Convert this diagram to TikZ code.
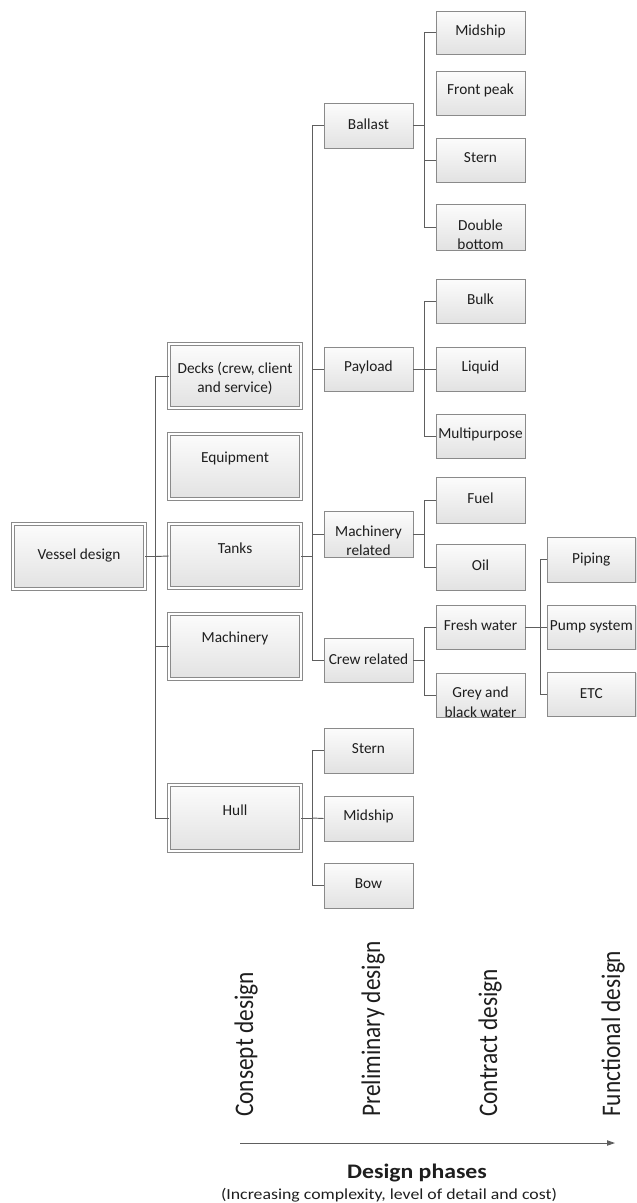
\documentclass[tikz,border=0pt]{standalone}
\usepackage{fontspec}
\setmainfont{Carlito}
\usetikzlibrary{fit,shadows,arrows.meta}

\definecolor{boxline}{HTML}{8A8A8A}
\definecolor{connline}{HTML}{5E5E5E}
\definecolor{shadetop}{HTML}{FCFCFC}
\definecolor{shadebot}{HTML}{E2E2E2}
\definecolor{inkcol}{HTML}{1E1E1E}

\tikzset{
  plainbox/.style={draw=boxline, line width=0.6pt, top color=shadetop,
    bottom color=shadebot, inner sep=0pt,
    drop shadow={shadow xshift=0.9pt, shadow yshift=-0.9pt, opacity=0.22}},
  dblbox/.style={plainbox, double=white, double distance=1.5pt, line width=0.5pt},
  lbl/.style={font=\fontsize{11.5}{14.5}\selectfont, text=inkcol, align=center, inner sep=0pt},
  conn/.style={draw=connline, line width=0.7pt},
  phase/.style={font=\fontsize{17.5}{20}\selectfont, text=inkcol, rotate=90,
    yscale=1.15, anchor=base west, inner sep=0pt},
}

% box: name, style, x1, y1, x2, y2 (pixel grid, y downwards)
\newcommand{\boxat}[6]{\node[#2, fit={(#3,#4) (#5,#6)}] (#1) {};}
% text of a box: box name, vertical shift, text
\newcommand{\boxtext}[3]{\node[lbl] (#1-t) at ([yshift=#2]#1.center) {#3};}

\begin{document}
\begin{tikzpicture}[x=0.75pt, y=-0.75pt]
\useasboundingbox (0,0) rectangle (636,1203);

% ---- level 1 ----
\boxat{vessel}{dblbox}{13}{524}{145}{589}
\boxtext{vessel}{1pt}{Vessel design}

% ---- level 2 ----
\boxat{decks}{dblbox}{169}{344}{301}{408}
\boxat{equip}{dblbox}{169}{434}{301}{499}
\boxat{tanks}{dblbox}{169}{524}{301}{588}
\boxat{mach}{dblbox}{169}{614}{301}{679}
\boxat{hull}{dblbox}{169}{785}{301}{851}
\boxtext{decks}{-2pt}{Decks (crew, client\\and service)}
\boxtext{equip}{6pt}{Equipment}
\boxtext{tanks}{6pt}{Tanks}
\boxtext{mach}{6pt}{Machinery}
\boxtext{hull}{6pt}{Hull}

% ---- level 3 ----
\boxat{ballast}{plainbox}{324}{103}{413}{148}
\boxat{payload}{plainbox}{324}{347}{413}{391}
\boxat{machrel}{plainbox}{324}{511}{413}{557}
\boxat{crewrel}{plainbox}{324}{638}{413}{682}
\boxat{hstern}{plainbox}{324}{728}{413}{773}
\boxat{hmid}{plainbox}{324}{796}{413}{841}
\boxat{hbow}{plainbox}{324}{863}{413}{908}
\boxtext{ballast}{1pt}{Ballast}
\boxtext{payload}{1.5pt}{Payload}
\boxtext{machrel}{-5pt}{Machinery\\related}
\boxtext{crewrel}{0.5pt}{Crew related}
\boxtext{hstern}{1.5pt}{Stern}
\boxtext{hmid}{1.5pt}{Midship}
\boxtext{hbow}{1.5pt}{Bow}

% ---- level 4 ----
\boxat{bmid}{plainbox}{436}{11}{525}{54}
\boxat{bfront}{plainbox}{436}{71}{525}{115}
\boxat{bstern}{plainbox}{436}{138}{525}{182}
\boxat{bdouble}{plainbox}{436}{204}{525}{250}
\boxat{bulk}{plainbox}{436}{279}{525}{323}
\boxat{liquid}{plainbox}{436}{347}{525}{391}
\boxat{multi}{plainbox}{436}{414}{525}{458}
\boxat{fuel}{plainbox}{436}{477}{525}{523}
\boxat{oil}{plainbox}{436}{544}{525}{590}
\boxat{fresh}{plainbox}{436}{605}{525}{649}
\boxat{grey}{plainbox}{436}{673}{525}{717}
\boxtext{bmid}{0.5pt}{Midship}
\boxtext{bfront}{2pt}{Front peak}
\boxtext{bstern}{2pt}{Stern}
\boxtext{bdouble}{-6pt}{Double\\bottom}
\boxtext{bulk}{1.5pt}{Bulk}
\boxtext{liquid}{1.5pt}{Liquid}
\boxtext{multi}{1.5pt}{Multipurpose}
\boxtext{fuel}{1.5pt}{Fuel}
\boxtext{oil}{1pt}{Oil}
\boxtext{fresh}{1.5pt}{Fresh water}
\boxtext{grey}{-5.5pt}{Grey and\\black water}

% ---- level 5 ----
\boxat{piping}{plainbox}{547}{537}{635.6}{582}
\boxat{pump}{plainbox}{547}{605}{635.6}{649}
\boxat{etc}{plainbox}{547}{672}{635.6}{716}
\boxtext{piping}{0pt}{Piping}
\boxtext{pump}{0pt}{Pump system}
\boxtext{etc}{0pt}{ETC}

% ---- connectors ----
\draw[conn] (vessel.east) -- ++(10,0) coordinate (j0);
\draw[conn] (j0) |- (decks.west);
\draw[conn] (j0) -- (tanks.west);
\draw[conn] (j0) |- (mach.west);
\draw[conn] (j0) |- (hull.west);

\draw[conn] (tanks.east) -- ++(11,0) coordinate (j1);
\draw[conn] (j1) |- (ballast.west);
\draw[conn] (j1) |- (payload.west);
\draw[conn] (j1) |- (machrel.west);
\draw[conn] (j1) |- (crewrel.west);

\draw[conn] (hull.east) -- ++(11,0) coordinate (j2);
\draw[conn] (j2) |- (hstern.west);
\draw[conn] (j2) -- (hmid.west);
\draw[conn] (j2) |- (hbow.west);

\draw[conn] (ballast.east) -- ++(11,0) coordinate (j3);
\draw[conn] (j3) |- (bmid.west);
\draw[conn] (j3) |- (bstern.west);
\draw[conn] (j3) |- (bdouble.west);

\draw[conn] (payload.east) -- ++(11,0) coordinate (j4);
\draw[conn] (j4) |- (bulk.west);
\draw[conn] (j4) -- (liquid.west);
\draw[conn] (j4) |- (multi.west);

\draw[conn] (machrel.east) -- ++(11,0) coordinate (j5);
\draw[conn] (j5) |- (fuel.west);
\draw[conn] (j5) |- (oil.west);

\draw[conn] (crewrel.east) -- ++(11,0) coordinate (j6);
\draw[conn] (j6) |- (fresh.west);
\draw[conn] (j6) |- (grey.west);

\draw[conn] (fresh.east) -- ++(15,0) coordinate (j7);
\draw[conn] (j7) |- (piping.west);
\draw[conn] (j7) -- (pump.west);
\draw[conn] (j7) |- (etc.west);

% ---- design phases ----
\node[phase] (ph1) at (253,1117) {Consept design};
\node[phase] (ph2) at (380,1117) {Preliminary design};
\node[phase] (ph3) at (497,1117) {Contract design};
\node[phase] (ph4) at (620,1117) {Functional design};

\coordinate (axstart) at (240,1143);
\coordinate (axend) at (615,1143);
\draw[conn, -{Triangle[length=6pt, width=4pt]}] (axstart) -- (axend);

\node[font=\fontsize{15.5}{18}\selectfont\bfseries, text=inkcol, xscale=1.15,
  anchor=base, inner sep=0pt] (title) at (417,1178) {Design phases};
\node[font=\fontsize{11.5}{14}\selectfont, text=inkcol, xscale=1.16,
  anchor=base, inner sep=0pt] (subtitle) at (389,1199)
  {(Increasing complexity, level of detail and cost)};
\end{tikzpicture}
\end{document}
